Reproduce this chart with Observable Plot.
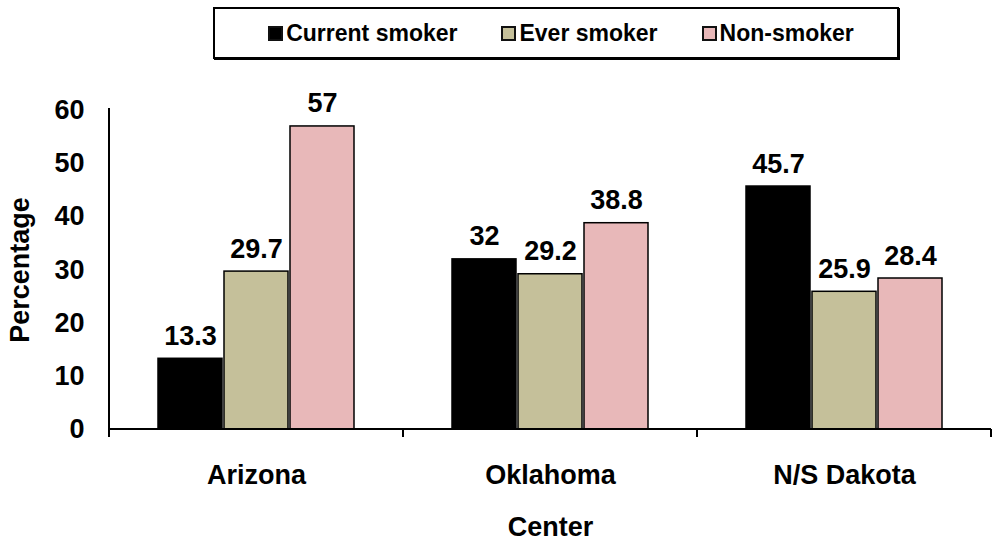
<!DOCTYPE html>
<html><head><meta charset="utf-8">
<script src="https://cdn.jsdelivr.net/npm/d3@7"></script>
<script src="https://cdn.jsdelivr.net/npm/@observablehq/plot@0.6"></script>
<style>
body{margin:0;background:#fff;font-family:"Liberation Sans",Arial,sans-serif;}
#wrap{width:1000px;height:540px;position:relative;}
#legendRow{position:relative;height:65px;}
#legend{position:absolute;left:213px;top:7px;width:672px;height:48px;border:2px solid #000;box-shadow:1px 1px 0 #000;display:flex;align-items:center;justify-content:center;padding-left:10px;box-sizing:content-box;}
.item{display:flex;align-items:center;font-weight:bold;font-size:23px;color:#000;margin:0 22px;letter-spacing:0px;}
.sw{width:11px;height:11px;border:2px solid #111;margin-right:3px;}
svg{display:block;}
</style>
</head><body>
<div id="wrap">
  <div id="legendRow"><div id="legend"></div></div>
  <div id="chart"></div>
</div>
<script>
const centers = ["Arizona", "Oklahoma", "N/S Dakota"];
const series = ["Current smoker", "Ever smoker", "Non-smoker"];
const currentSmoker = [13.3, 32, 45.7];
const everSmoker = [29.7, 29.2, 25.9];
const nonSmoker = [57, 38.8, 28.4];
const colors = ["#000000", "#c5c09a", "#e8b8b9"];
const yTicks = [0, 10, 20, 30, 40, 50, 60];

const valuesBySeries = [currentSmoker, everSmoker, nonSmoker];
const data = centers.flatMap((c, i) => series.map((s, j) => ({center: c, series: s, value: valuesBySeries[j][i]})));

// legend
const legend = d3.select("#legend");
series.forEach((s, j) => {
  const it = legend.append("div").attr("class", "item");
  it.append("div").attr("class", "sw").style("background", colors[j]);
  it.append("span").text(s);
});

const plot = Plot.plot({
  width: 1000,
  height: 475,
  marginLeft: 108,
  marginRight: 8,
  marginTop: 45,
  marginBottom: 111,
  style: {fontFamily: "'Liberation Sans', Arial, sans-serif", color: "#000", background: "#fff"},
  fx: {domain: centers, padding: 0},
  x: {domain: series, paddingInner: 0.03, paddingOuter: 0.73, axis: null},
  y: {domain: [0, 60]},
  color: {domain: series, range: colors},
  marks: [
    Plot.barY(data, {fx: "center", x: "series", y: "value", fill: "series", stroke: "#000", strokeWidth: 1.5}),
    Plot.text(data, {fx: "center", x: "series", y: "value", text: d => String(d.value), dy: -14, lineAnchor: "bottom", fontSize: 27, fontWeight: "bold", fill: "#000"}),
    Plot.axisY(yTicks, {tickSize: 0, tickPadding: 25, fontSize: 27, fontWeight: "bold", label: "Percentage", labelAnchor: "center", labelOffset: 100, labelArrow: "none"}),
    Plot.axisFx({anchor: "bottom", tickSize: 0, tickPadding: 35, fontSize: 27, fontWeight: "bold", label: "Center", labelAnchor: "center", labelOffset: 106, labelArrow: "none"})
  ]
});
document.getElementById("chart").appendChild(plot);

// axis lines and group boundary ticks, placed with the plot's own scales
const fx = plot.scale("fx"), y = plot.scale("y");
const svg = d3.select(plot);
const y0 = y.apply(0), yTop = y.apply(60) - 2;
const left = fx.apply(centers[0]);
const right = fx.apply(centers[centers.length - 1]) + fx.bandwidth;
const g = svg.append("g").attr("stroke", "#000").attr("stroke-width", 2);
g.append("line").attr("x1", left).attr("x2", left).attr("y1", yTop).attr("y2", y0);
g.append("line").attr("x1", left).attr("x2", right).attr("y1", y0).attr("y2", y0);
const bounds = centers.map(c => fx.apply(c)).concat([right]);
bounds.forEach(b => g.append("line").attr("x1", b).attr("x2", b).attr("y1", y0).attr("y2", y0 + 8));
</script>
</body></html>
